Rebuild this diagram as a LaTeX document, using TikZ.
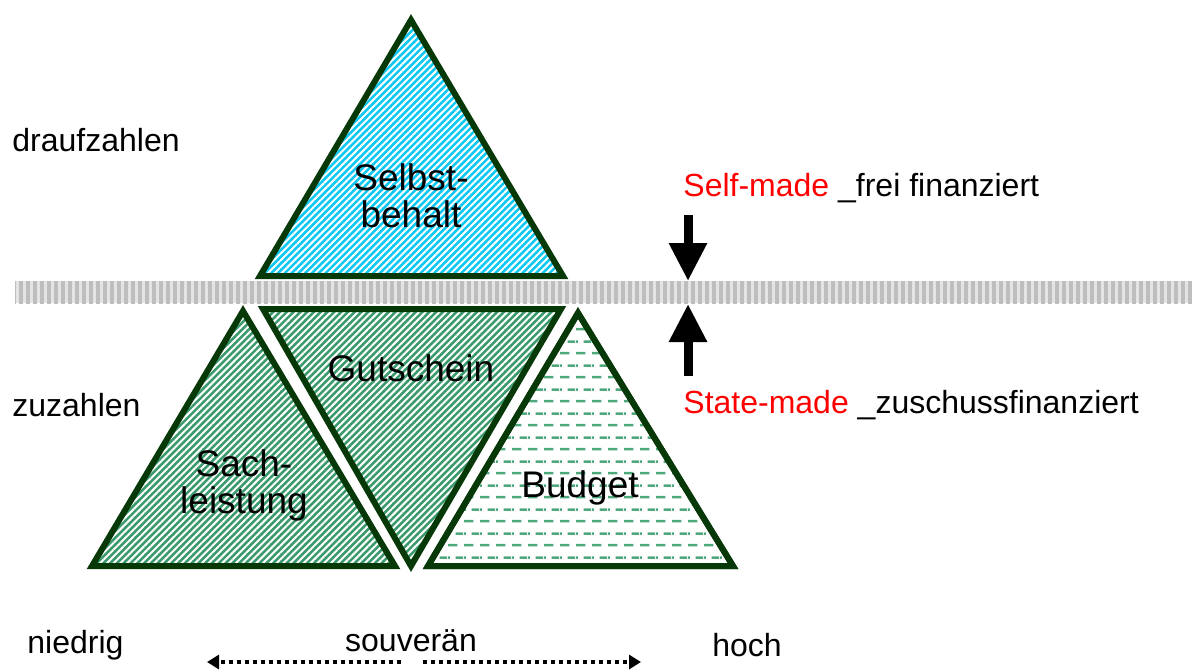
\documentclass[tikz,border=0pt]{standalone}
\usepackage{fontspec}
\setmainfont{Liberation Sans}
\definecolor{rim}{HTML}{073807}
\definecolor{sky}{HTML}{0CC8F2}
\definecolor{leaf}{HTML}{3A9A6C}
\definecolor{leaflt}{HTML}{4FA87C}
\definecolor{bandlt}{HTML}{E4E4E4}
\definecolor{banddk}{HTML}{BEBEBE}
\usetikzlibrary{arrows.meta, positioning, patterns.meta}
\tikzdeclarepattern{
  name=dashrows,
  type=uncolored,
  bounding box={(0,0) and (8pt,12pt)},
  tile size={(8pt,12pt)},
  code={
    \fill (0pt,2.4pt) rectangle (5pt,3.7pt);
    \fill (4pt,8.4pt) rectangle (8pt,9.7pt);
    \fill (0pt,8.4pt) rectangle (1pt,9.7pt);
  }
}

\begin{document}
\begin{tikzpicture}[x=0.5pt,y=-0.5pt,
    tri/.style={draw=rim,line width=3pt},
    hatch/.style={tri,preaction={fill=#1},pattern={Lines[angle=45,distance=2.4pt,line width=1pt]},pattern color=white},
    lbl/.style={font=\fontsize{18.5}{18.5}\selectfont,align=center,inner sep=0pt},
    side/.style={font=\fontsize{16}{19}\selectfont,inner sep=0pt,anchor=west},
    big/.style={line width=4.5pt,-{Triangle[width=18pt,length=19pt]}},
    dots/.style={line width=2pt,dash pattern=on 2pt off 2pt,-{Triangle[width=7pt,length=6pt]}}]
    \useasboundingbox (0,0) rectangle (1192,670);
    % band
    \fill[bandlt] (15,281) rectangle (1192,303);
    \fill[pattern={Lines[angle=90,distance=3.5pt,line width=1.6pt]},pattern color=banddk] (15,281) rectangle (1192,303);
    % triangles
    \draw[hatch=sky] (411,20) -- (563,276) -- (260,276) -- cycle;
    \draw[hatch=leaf] (243,311) -- (395,566) -- (92,566) -- cycle;
    \draw[hatch=leaf] (263,309) -- (561,309) -- (411,566) -- cycle;
    \draw[tri,fill=white,pattern=dashrows,pattern color=leaflt] (578,313) -- (733,566) -- (428,566) -- cycle;
    \draw[tri] (578,313) -- (733,566) -- (428,566) -- cycle;
    \node[lbl] (sel) at (411,196) {Selbst-\\behalt};
    \node[lbl] (gut) at (411,368) {Gutschein};
    \node[lbl] (sach) at (244,485) {Sach-\\leistung};
    \node[lbl] (bud) at (580,488) {Budget};
    % side texts
    \node[side] (drauf) at (12,140) {draufzahlen};
    \node[side] (zu) at (12,405) {zuzahlen};
    \node[side] (self) at (683,188) {\textcolor{red}{Self-made} \_frei finanziert};
    \node[side] (state) at (683,405) {\textcolor{red}{State-made} \_zuschussfinanziert};
    \coordinate (selfa) at (688,215);
    \coordinate (selfb) at (688,281);
    \coordinate (statea) at (688,376);
    \coordinate (stateb) at (688,304);
    \draw[big] (selfa) -- (selfb);
    \draw[big] (statea) -- (stateb);
    % scale
    \node[side] (low) at (27,645) {niedrig};
    \node[side,anchor=center] (souv) at (411,641) {souverän};
    \node[side] (high) at (712,645) {hoch};
    \coordinate (dl) at (401,662);
    \coordinate (dr) at (423,662);
    \draw[dots] (dl) -- (207,662);
    \draw[dots] (dr) -- (641,662);
  \end{tikzpicture}
\end{document}
